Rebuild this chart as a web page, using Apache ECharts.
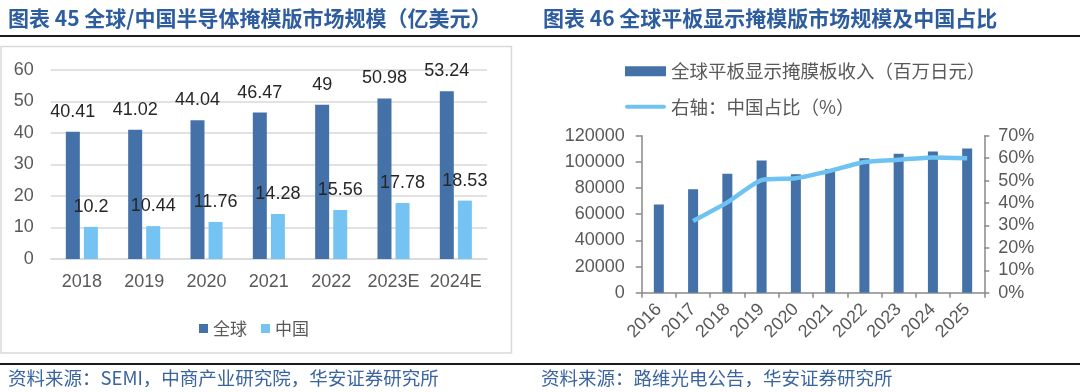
<!DOCTYPE html>
<html>
<head>
<meta charset="utf-8">
<script src="https://cdn.jsdelivr.net/npm/echarts@6/dist/echarts.min.js"></script>
<style>
html,body{margin:0;padding:0;background:#fff;}
#c{width:1080px;height:392px;}
</style>
</head>
<body>
<div id="c"></div>
<script>
// Left chart data (亿美元)
var leftCategories = ['2018', '2019', '2020', '2021', '2022', '2023E', '2024E'];
var globalValues = [40.41, 41.02, 44.04, 46.47, 49, 50.98, 53.24];
var chinaValues = [10.2, 10.44, 11.76, 14.28, 15.56, 17.78, 18.53];

// Right chart data
var rightCategories = ['2016', '2017', '2018', '2019', '2020', '2021', '2022', '2023', '2024', '2025'];
var fpdRevenue = [67500, 79000, 91000, 101000, 90500, 94500, 102800, 106200, 108000, 110300];
var chinaShare = [null, 32, 40.3, 50.2, 51, 54.3, 58.3, 59.3, 60.3, 60];

var leftTitle = '图表 45 全球/中国半导体掩模版市场规模（亿美元）';
var rightTitle = '图表 46 全球平板显示掩模版市场规模及中国占比';
var leftSource = '资料来源：SEMI，中商产业研究院，华安证券研究所';
var rightSource = '资料来源：路维光电公告，华安证券研究所';

var FONT = '"Liberation Sans", "Noto Sans CJK SC", sans-serif';
var CJK = '"Noto Sans CJK SC", "Liberation Sans", sans-serif';
var DARK = '#4472A8';
var LIGHT = '#75C3F2';
var LINE = '#6EC3F2';
var TXT = '#595959';

var chart = echarts.init(document.getElementById('c'), null, {renderer: 'canvas'});
chart.setOption({
  animation: false,
  backgroundColor: '#ffffff',
  textStyle: {fontFamily: FONT},
  graphic: [
    {type: 'text', left: 8, top: 8, style: {text: leftTitle, font: 'bold 21px ' + CJK, fill: '#2E5D9F'}},
    {type: 'text', left: 543, top: 8, style: {text: rightTitle, font: 'bold 21px ' + CJK, fill: '#2E5D9F'}},
    {type: 'rect', shape: {x: 0, y: 35, width: 1080, height: 2}, style: {fill: '#1a1a1a'}},
    {type: 'rect', shape: {x: 1, y: 46.5, width: 510.5, height: 306.5}, style: {fill: 'none', stroke: '#d9d9d9', lineWidth: 1.5}},
    {type: 'rect', shape: {x: 0, y: 363, width: 1080, height: 2}, style: {fill: '#1a1a1a'}},
    {type: 'text', left: 8, top: 369, style: {text: leftSource, font: '18.5px ' + CJK, fill: '#3A64A0'}},
    {type: 'text', left: 541, top: 369, style: {text: rightSource, font: '18.5px ' + CJK, fill: '#3A64A0'}}
  ],
  legend: [
    {
      left: 194, top: 315, itemWidth: 9, itemHeight: 9, itemGap: 14,
      icon: 'rect',
      textStyle: {fontFamily: CJK, fontSize: 17, color: TXT},
      data: ['全球', '中国']
    },
    {
      left: 620, top: 57, orient: 'vertical', itemWidth: 41, itemHeight: 10, itemGap: 17,
      textStyle: {fontFamily: CJK, fontSize: 18.5, color: TXT},
      data: [
        {name: '全球平板显示掩膜板收入（百万日元）', icon: 'rect'},
        {name: '右轴：中国占比（%）', icon: 'path://M2,0 L39,0 A2,2 0 0 1 39,4 L2,4 A2,2 0 0 1 2,0 Z'}
      ]
    }
  ],
  grid: [
    {left: 50.7, right: 593, top: 70, bottom: 133},
    {left: 641.7, right: 95.7, top: 135.7, bottom: 99.3}
  ],
  xAxis: [
    {
      type: 'category', gridIndex: 0, data: leftCategories,
      axisLine: {lineStyle: {color: '#d9d9d9', width: 1.5}},
      axisTick: {show: false},
      axisLabel: {fontSize: 18, color: TXT, margin: 14, interval: 0}
    },
    {
      type: 'category', gridIndex: 1, data: rightCategories,
      axisLine: {lineStyle: {color: '#898989', width: 1.5}},
      axisTick: {show: true, length: 5, lineStyle: {color: '#898989', width: 1.5}},
      axisLabel: {fontSize: 18, color: TXT, rotate: 45, margin: 14, interval: 0}
    }
  ],
  yAxis: [
    {
      type: 'value', gridIndex: 0, min: 0, max: 60, interval: 10,
      axisLine: {show: false}, axisTick: {show: false},
      splitLine: {lineStyle: {color: '#d9d9d9', width: 1.5}},
      axisLabel: {fontSize: 18, color: TXT, margin: 17}
    },
    {
      type: 'value', gridIndex: 1, min: 0, max: 120000, interval: 20000,
      axisLine: {show: true, lineStyle: {color: '#898989', width: 1.5}},
      axisTick: {show: true, length: 6, lineStyle: {color: '#898989', width: 1.5}},
      splitLine: {show: false},
      axisLabel: {fontSize: 18, color: TXT, margin: 17, formatter: function (v) { return String(v); }}
    },
    {
      type: 'value', gridIndex: 1, position: 'right', min: 0, max: 70, interval: 10,
      axisLine: {show: true, lineStyle: {color: '#898989', width: 1.5}},
      axisTick: {show: true, length: 5, lineStyle: {color: '#898989', width: 1.5}},
      splitLine: {show: false},
      axisLabel: {fontSize: 18, color: TXT, margin: 14, formatter: '{value}%'}
    }
  ],
  series: [
    {
      name: '全球', type: 'bar', xAxisIndex: 0, yAxisIndex: 0, data: globalValues,
      barWidth: 14, barGap: '29%', itemStyle: {color: DARK},
      label: {show: true, position: 'top', distance: 11, fontSize: 18, color: '#262626'}
    },
    {
      name: '中国', type: 'bar', xAxisIndex: 0, yAxisIndex: 0, data: chinaValues,
      barWidth: 14, barGap: '29%', itemStyle: {color: LIGHT},
      label: {show: true, position: 'top', distance: 11, fontSize: 18, color: '#262626'}
    },
    {
      name: '全球平板显示掩膜板收入（百万日元）', type: 'bar', xAxisIndex: 1, yAxisIndex: 1,
      data: fpdRevenue, barWidth: 10, itemStyle: {color: DARK}
    },
    {
      name: '右轴：中国占比（%）', type: 'line', xAxisIndex: 1, yAxisIndex: 2,
      data: chinaShare, smooth: 0.2, symbol: 'none', showSymbol: false, connectNulls: false,
      lineStyle: {color: LINE, width: 4.5}, itemStyle: {color: LINE}
    }
  ]
});
</script>
</body>
</html>
